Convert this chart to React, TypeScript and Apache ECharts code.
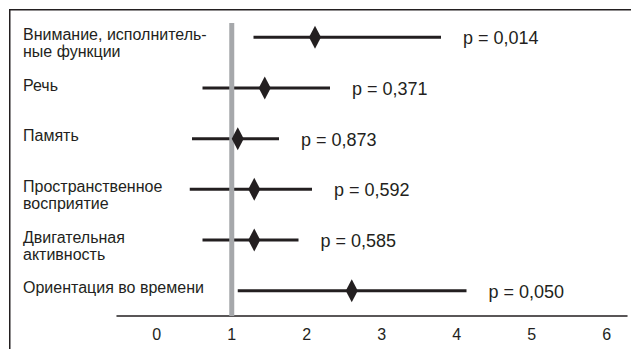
import React, { useEffect, useRef } from "react";
import * as echarts from "echarts";

const categories = [
  "Внимание, исполнитель-\nные функции",
  "Речь",
  "Память",
  "Пространственное\nвосприятие",
  "Двигательная\nактивность",
  "Ориентация во времени",
];
const lowerCI = [1.29, 0.61, 0.47, 0.44, 0.61, 1.08];
const estimates = [2.11, 1.44, 1.08, 1.3, 1.3, 2.6];
const upperCI = [3.79, 2.31, 1.63, 2.07, 1.89, 4.13];
const pValues = ["p = 0,014", "p = 0,371", "p = 0,873", "p = 0,592", "p = 0,585", "p = 0,050"];
const xTicks = [0, 1, 2, 3, 4, 5, 6];
const referenceValue = 1;

const FONT = "'Liberation Sans', Arial, sans-serif";
const INK = "#231f20";

export default function App() {
  const ref = useRef<HTMLDivElement>(null);
  useEffect(() => {
    if (!ref.current) return;
    const chart = echarts.init(ref.current, undefined, { renderer: "svg" });
    const xMin = -0.53;
    const xMax = 6.27;
    chart.setOption({
      animation: false,
      backgroundColor: "#ffffff",
      textStyle: { fontFamily: FONT },
      grid: [
        { left: 117, right: 4, top: 12, bottom: 33 },
        { left: 117, right: 4, top: 0.5, bottom: 44.5 },
      ],
      xAxis: [
        {
          gridIndex: 0,
          type: "value",
          min: xMin,
          max: xMax,
          axisLine: { show: true, lineStyle: { color: INK, width: 1.5 } },
          axisTick: { show: false },
          splitLine: { show: false },
          axisLabel: {
            customValues: xTicks,
            fontSize: 16,
            color: INK,
            margin: 10,
            fontFamily: FONT,
          },
        },
        { gridIndex: 1, type: "value", min: xMin, max: xMax, show: false },
      ],
      yAxis: [
        {
          gridIndex: 0,
          type: "category",
          data: categories,
          inverse: true,
          axisLine: { show: false },
          axisTick: { show: false },
          axisLabel: { show: false },
          splitLine: { show: false },
        },
        {
          gridIndex: 1,
          type: "category",
          data: categories,
          inverse: true,
          axisLine: { show: false },
          axisTick: { show: false },
          splitLine: { show: false },
          axisLabel: {
            interval: 0,
            align: "left",
            verticalAlign: "top",
            margin: 94,
            fontSize: 16,
            lineHeight: 17,
            color: INK,
            fontFamily: FONT,
          },
        },
      ],
      graphic: [
        {
          type: "polyline",
          shape: { points: [[9.75, 349], [9.75, 9.75], [631, 9.75]] },
          style: { stroke: INK, lineWidth: 1.5, fill: "none" },
          silent: true,
        },
      ],
      series: [
        {
          type: "custom",
          xAxisIndex: 0,
          yAxisIndex: 0,
          encode: { x: [0, 1], y: 2 },
          data: categories.map((_, i) => [lowerCI[i], upperCI[i], i]),
          renderItem: (params: any, api: any) => {
            const row = api.value(2);
            const a = api.coord([api.value(0), row]);
            const b = api.coord([api.value(1), row]);
            return {
              type: "group",
              children: [
                {
                  type: "line",
                  shape: { x1: a[0], y1: a[1], x2: b[0], y2: b[1] },
                  style: { stroke: INK, lineWidth: 3 },
                },
                {
                  type: "text",
                  style: {
                    text: pValues[params.dataIndex],
                    x: b[0] + 22,
                    y: b[1] + 1,
                    fontSize: 18,
                    fontFamily: FONT,
                    fill: INK,
                    verticalAlign: "middle",
                    align: "left",
                  },
                },
              ],
            };
          },
          z: 2,
        },
        {
          type: "custom",
          xAxisIndex: 0,
          yAxisIndex: 0,
          encode: { x: 0, y: 1 },
          data: [[referenceValue, 0]],
          renderItem: (params: any, api: any) => {
            const cs = params.coordSys;
            const x = api.coord([api.value(0), 0])[0];
            return {
              type: "line",
              shape: { x1: x, y1: cs.y + 11, x2: x, y2: cs.y + cs.height },
              style: { stroke: "#a6a8ab", lineWidth: 5 },
            };
          },
          z: 3,
        },
        {
          type: "scatter",
          xAxisIndex: 0,
          yAxisIndex: 0,
          data: estimates.map((v, i) => [v, i]),
          symbol: "diamond",
          symbolSize: [12, 23],
          itemStyle: { color: INK, opacity: 1 },
          z: 4,
        },
      ],
    });
    return () => chart.dispose();
  }, []);
  return (
    <div
      ref={ref}
      style={{ position: "absolute", left: 0, top: 0, width: 631, height: 349 }}
    />
  );
}
